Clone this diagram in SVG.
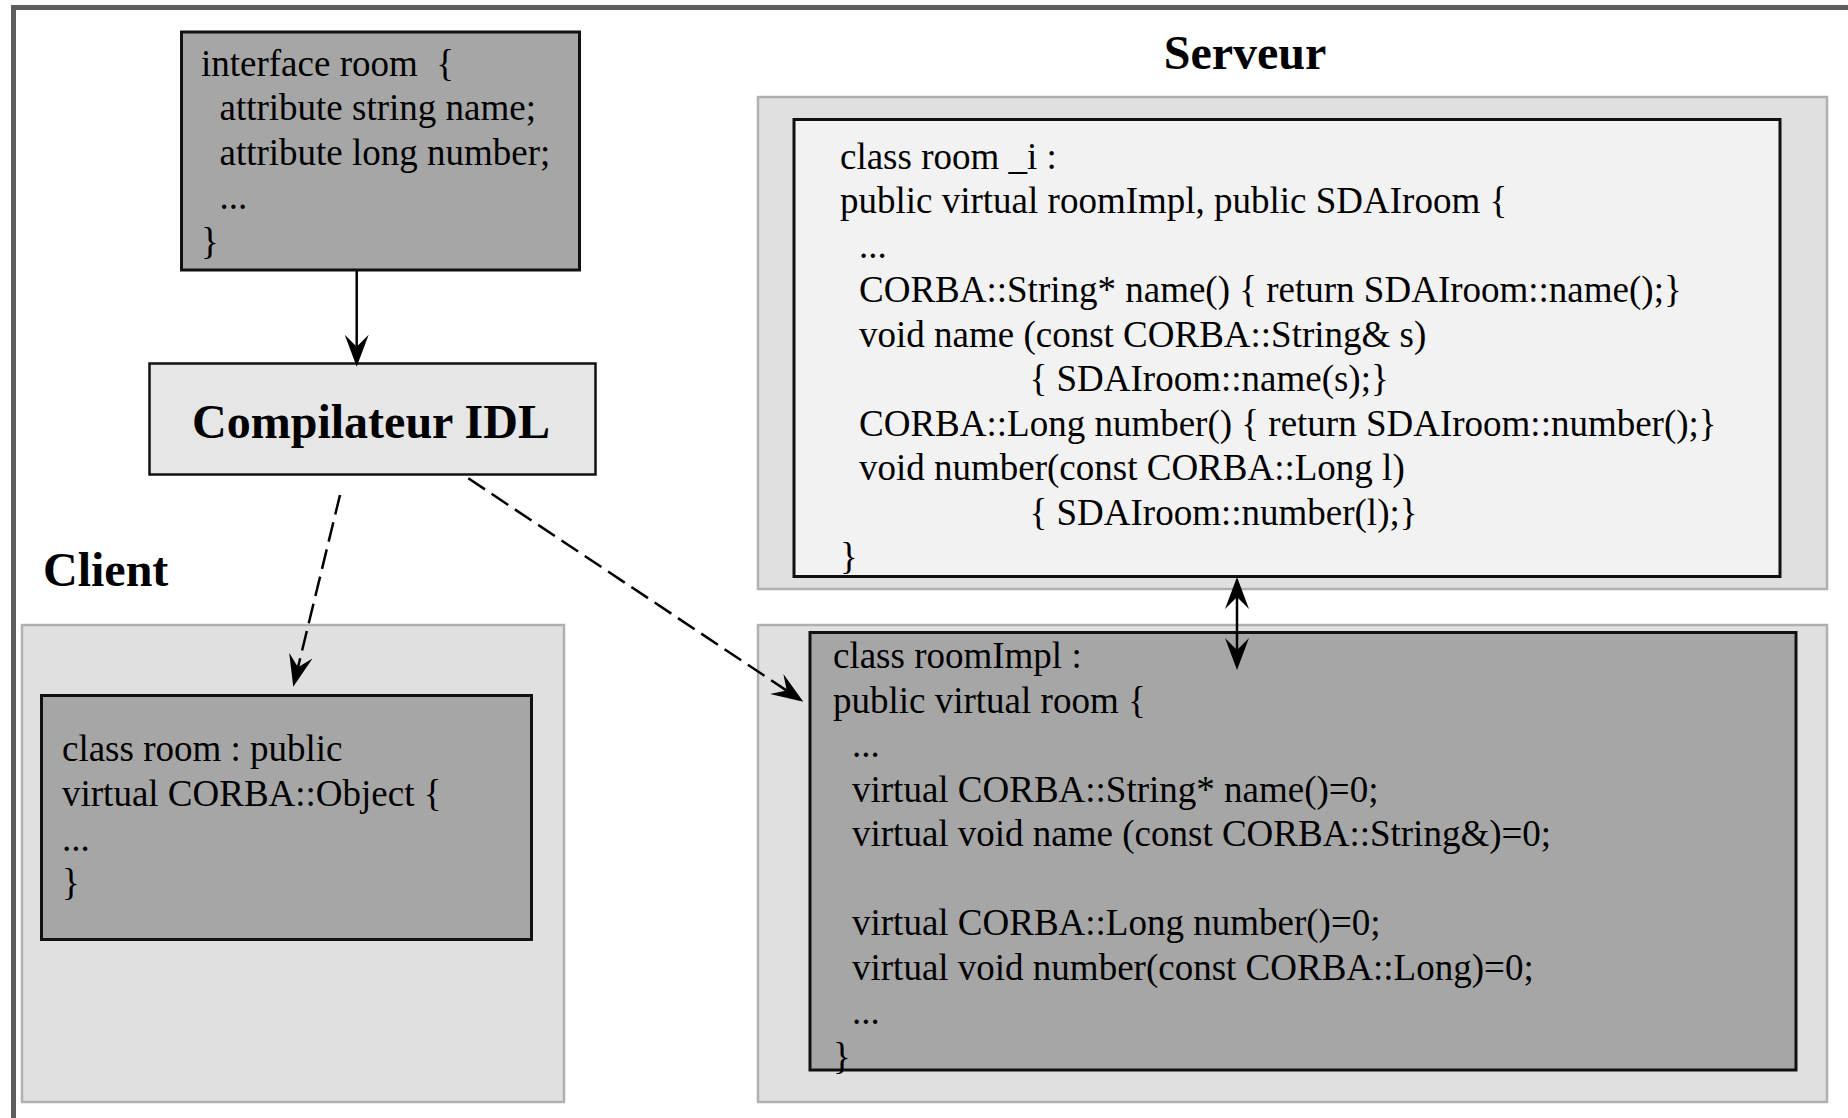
<svg xmlns="http://www.w3.org/2000/svg" width="1848" height="1118" viewBox="0 0 1848 1118">
  <style>
    .code { font-family: "Liberation Serif", "Times New Roman", serif; font-size: 37px; fill: #000; white-space: pre; }
    .title { font-family: "Liberation Serif", "Times New Roman", serif; font-size: 48px; font-weight: bold; fill: #000; }
    .zone { fill: #e0e0e0; stroke: #b0b0b0; stroke-width: 2.5; }
    .dark { fill: #a6a6a6; stroke: #111; stroke-width: 3; }
    .light { fill: #f2f2f2; stroke: #111; stroke-width: 3; }
    .tool { fill: #e6e6e6; stroke: #111; stroke-width: 2.5; }
    .edge { fill: none; stroke: #000; stroke-width: 2.5; }
    .dash { stroke-dasharray: 20 8; }
  </style>
  <defs>
    <!-- barbed arrowhead: tip at (32,12), notch at (12,12) is the attach point -->
    <marker id="head" viewBox="0 0 32 24" refX="12" refY="12" markerWidth="32" markerHeight="24" markerUnits="userSpaceOnUse" orient="auto-start-reverse">
      <path d="M32,12 L0,0 L12,12 L0,24 Z" fill="#000"/>
    </marker>
  </defs>

  <rect x="0" y="0" width="1848" height="1118" fill="#fff"/>
  <!-- outer frame, open to the right and bottom -->
  <rect x="13.5" y="7.5" width="2000" height="2000" fill="none" stroke="#5e5e5e" stroke-width="5"/>

  <!-- section titles -->
  <text class="title" x="1245" y="69" text-anchor="middle">Serveur</text>
  <text class="title" x="43" y="586">Client</text>

  <!-- background zones -->
  <rect class="zone" x="22" y="625" width="542" height="477"/>
  <rect class="zone" x="758" y="97" width="1069" height="492"/>
  <rect class="zone" x="758" y="625" width="1069" height="477"/>

  <g id="idl-interface">
    <rect class="dark" x="181.5" y="32" width="398" height="238"/>
    <text class="code" x="201" y="75.5">interface room  {</text>
    <text class="code" x="219.5" y="120">attribute string name;</text>
    <text class="code" x="219.5" y="164.5">attribute long number;</text>
    <text class="code" x="219.5" y="209">...</text>
    <text class="code" x="201" y="253.5">}</text>
  </g>

  <g id="idl-compiler">
    <rect class="tool" x="149.5" y="363.5" width="446" height="111"/>
    <text class="title" x="371" y="438" text-anchor="middle">Compilateur IDL</text>
  </g>

  <g id="client-stub">
    <rect class="dark" x="41.5" y="695.5" width="490" height="244"/>
    <text class="code" x="62" y="761">class room : public</text>
    <text class="code" x="62" y="806">virtual CORBA::Object {</text>
    <text class="code" x="62" y="851">...</text>
    <text class="code" x="62" y="895">}</text>
  </g>

  <g id="server-impl">
    <rect class="light" x="794" y="119.5" width="986" height="457"/>
    <text class="code" x="840" y="168.5">class room _i :</text>
    <text class="code" x="840" y="213">public virtual roomImpl, public SDAIroom {</text>
    <text class="code" x="859" y="257.5">...</text>
    <text class="code" x="859" y="302">CORBA::String* name() { return SDAIroom::name();}</text>
    <text class="code" x="859" y="346.5">void name (const CORBA::String&amp; s)</text>
    <text class="code" x="1029.5" y="391">{ SDAIroom::name(s);}</text>
    <text class="code" x="859" y="435.5">CORBA::Long number() { return SDAIroom::number();}</text>
    <text class="code" x="859" y="480">void number(const CORBA::Long l)</text>
    <text class="code" x="1029.5" y="524.5">{ SDAIroom::number(l);}</text>
    <text class="code" x="840" y="569">}</text>
  </g>

  <g id="server-skeleton">
    <rect class="dark" x="810" y="632.5" width="986" height="437.5"/>
    <text class="code" x="833" y="668">class roomImpl :</text>
    <text class="code" x="833" y="712.5">public virtual room {</text>
    <text class="code" x="852" y="757">...</text>
    <text class="code" x="852" y="801.5">virtual CORBA::String* name()=0;</text>
    <text class="code" x="852" y="846">virtual void name (const CORBA::String&amp;)=0;</text>
    <text class="code" x="852" y="935">virtual CORBA::Long number()=0;</text>
    <text class="code" x="852" y="979.5">virtual void number(const CORBA::Long)=0;</text>
    <text class="code" x="852" y="1024">...</text>
    <text class="code" x="833" y="1068.5">}</text>
  </g>

  <g id="connectors">
    <line class="edge" x1="356.7" y1="270" x2="356.7" y2="346.7" marker-end="url(#head)"/>
    <line class="edge dash" x1="340" y1="495" x2="298" y2="667.3" marker-end="url(#head)"/>
    <line class="edge dash" x1="468.3" y1="478.3" x2="786.7" y2="690.6" marker-end="url(#head)"/>
    <line class="edge" x1="1237" y1="597" x2="1237" y2="650" marker-start="url(#head)" marker-end="url(#head)"/>
  </g>
</svg>
